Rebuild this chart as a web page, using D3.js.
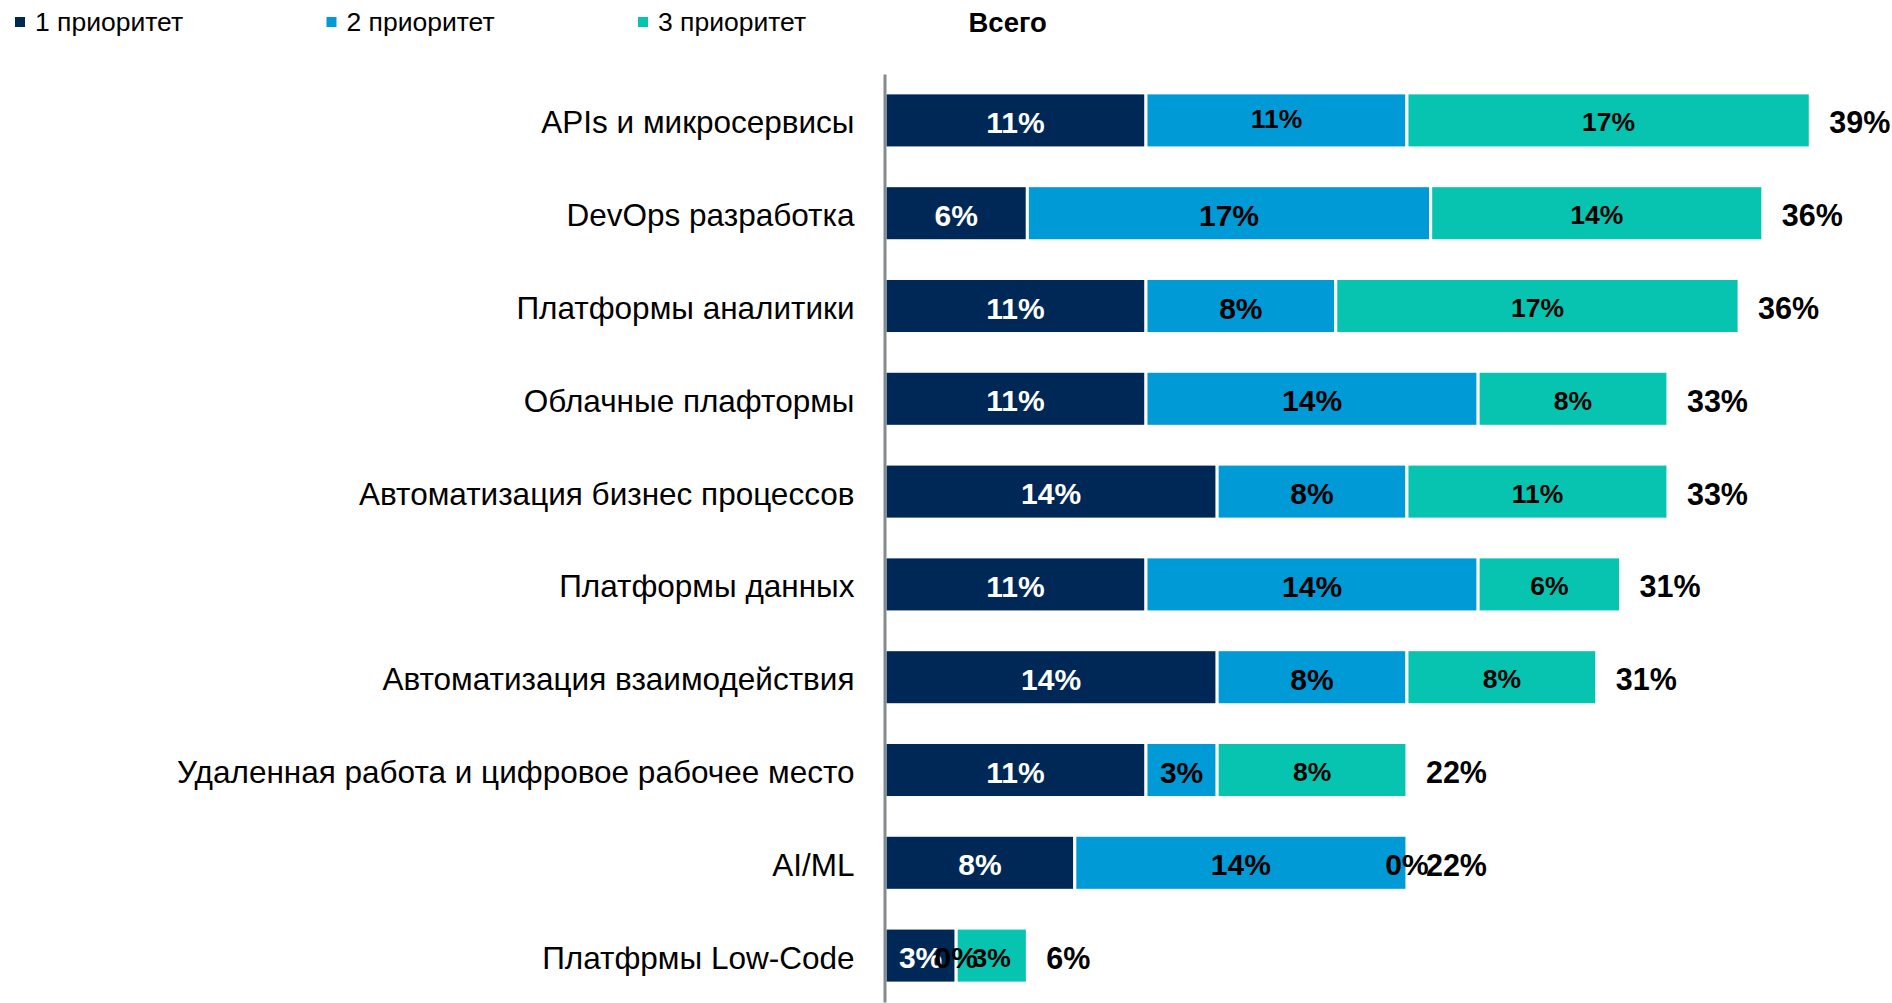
<!DOCTYPE html>
<html>
<head>
<meta charset="utf-8">
<script src="https://cdn.jsdelivr.net/npm/d3@7"></script>
<style>
  body { margin: 0; background: #fff; }
  svg { display: block; font-family: "Liberation Sans", Arial, sans-serif; }
</style>
</head>
<body>
<svg id="chart" width="1892" height="1003"></svg>
<script>
// данные
const categories = [
  "APIs и микросервисы",
  "DevOps разработка",
  "Платформы аналитики",
  "Облачные плафтормы",
  "Автоматизация бизнес процессов",
  "Платформы данных",
  "Автоматизация взаимодействия",
  "Удаленная работа и цифровое рабочее место",
  "AI/ML",
  "Платфрмы Low-Code"
];
const seriesNames = ["1 приоритет", "2 приоритет", "3 приоритет"];
const priority1 = [11, 6, 11, 11, 14, 11, 14, 11, 8, 3];
const priority2 = [11, 17, 8, 14, 8, 14, 8, 3, 14, 0];
const priority3 = [17, 14, 17, 8, 11, 6, 8, 8, 0, 3];
const totals = [39, 36, 36, 33, 33, 31, 31, 22, 22, 6];
const totalName = "Всего";

const colors = ["#002856", "#009bd7", "#07c4b1"];
const labelColors = ["#fff", "#000", "#000"];
const labelSizes = [30, 30, 26.5];

const svg = d3.select("#chart");

const rows = categories.map((c, i) => ({
  name: c, p1: priority1[i], p2: priority2[i], p3: priority3[i], total: totals[i]
}));

// шкалы
const x = d3.scaleLinear().domain([0, 40]).range([885, 1834]);
const y = d3.scaleBand().domain(categories)
  .range([74, 1002]).paddingInner(0.407).paddingOuter(0.2035);

const stack = d3.stack().keys(["p1", "p2", "p3"]);
const layers = stack(rows);

// сегменты
const g = svg.append("g");
layers.forEach((layer, k) => {
  g.selectAll(null)
    .data(layer)
    .join("rect")
    .attr("x", d => x(d[0]))
    .attr("y", d => y(d.data.name))
    .attr("width", d => x(d[1]) - x(d[0]))
    .attr("height", y.bandwidth())
    .attr("fill", colors[k])
    .attr("stroke", "#fff")
    .attr("stroke-width", 3);
});

// подписи сегментов (в первой строке подпись 2-го ряда мельче и выше, как в оригинале)
layers.forEach((layer, k) => {
  g.selectAll(null)
    .data(layer)
    .join("text")
    .attr("x", d => (x(d[0]) + x(d[1])) / 2)
    .attr("y", (d, i) => y(d.data.name) + y.bandwidth() / 2 + 2 - (k === 1 && i === 0 ? 3 : 0))
    .attr("text-anchor", "middle")
    .attr("dominant-baseline", "central")
    .attr("font-weight", "bold")
    .attr("font-size", (d, i) => {
      if (d[1] - d[0] === 0) return 30;
      if (k === 1 && i === 0) return 26.5;
      return labelSizes[k];
    })
    .attr("fill", labelColors[k])
    .text(d => (d[1] - d[0]) + "%");
});

// итоги
g.selectAll(null)
  .data(rows)
  .join("text")
  .attr("x", d => x(d.p1 + d.p2 + d.p3) + 19)
  .attr("y", d => y(d.name) + y.bandwidth() / 2 + 2)
  .attr("dominant-baseline", "central")
  .attr("font-weight", "bold")
  .attr("font-size", 30.5)
  .attr("fill", "#000")
  .text(d => d.total + "%");

// ось категорий
const yAxis = svg.append("g")
  .attr("transform", "translate(884.5,0)")
  .call(d3.axisLeft(y).tickSize(0).tickPadding(30));
yAxis.select(".domain").attr("stroke", "#848b8f").attr("stroke-width", 3);
yAxis.selectAll("text")
  .attr("font-size", 31.5)
  .attr("font-family", "Liberation Sans, Arial, sans-serif")
  .attr("fill", "#000")
  .attr("dy", null)
  .attr("y", 2)
  .attr("dominant-baseline", "central");

// легенда
const legendItems = seriesNames.map((n, i) => ({ name: n, color: colors[i] }))
  .concat([{ name: totalName, color: null }]);
const legend = svg.append("g").attr("transform", "translate(15,22)");
legendItems.forEach((it, i) => {
  const lg = legend.append("g").attr("transform", `translate(${i * 311.5},0)`);
  if (it.color) {
    lg.append("rect").attr("x", 0).attr("y", -5).attr("width", 10).attr("height", 10).attr("fill", it.color);
  }
  lg.append("text")
    .attr("x", it.color ? 20 : 19)
    .attr("dominant-baseline", "central")
    .attr("font-size", it.color ? 26.5 : 27.5)
    .attr("font-weight", it.color ? "normal" : "bold")
    .text(it.name);
});
</script>
</body>
</html>
